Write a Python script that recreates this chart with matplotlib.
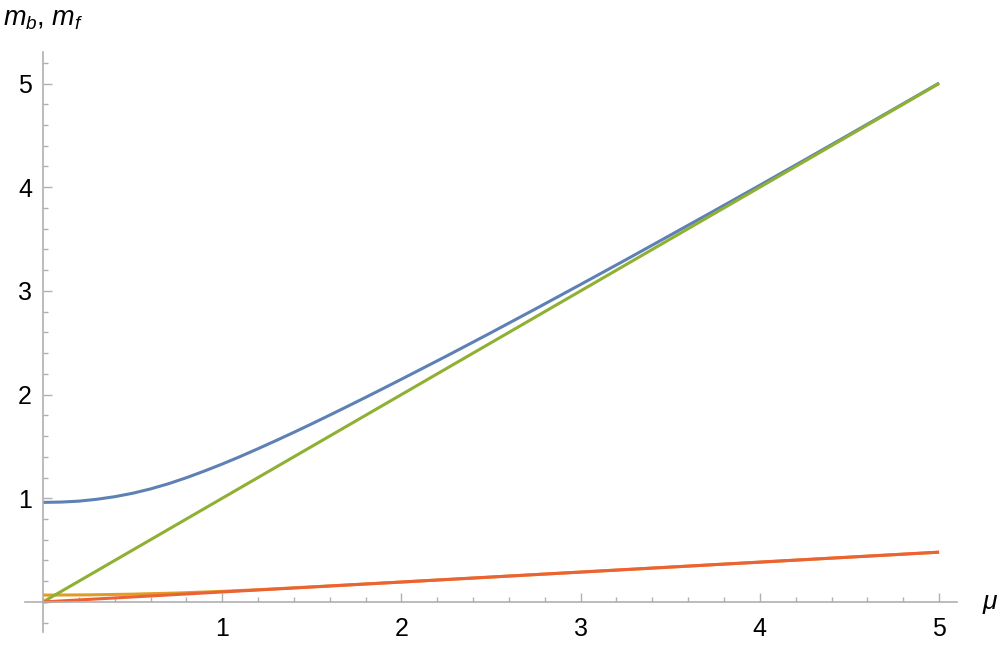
import matplotlib
matplotlib.use('Agg')
import matplotlib.pyplot as plt
from matplotlib.ticker import MultipleLocator, FixedLocator

plt.rcParams['font.family'] = ['Liberation Sans', 'DejaVu Sans']
plt.rcParams['mathtext.fontset'] = 'custom'
plt.rcParams['mathtext.it'] = 'Liberation Sans:italic'
plt.rcParams['mathtext.rm'] = 'Liberation Sans'

# values
mu_b = [0.0, 0.1, 0.2, 0.3, 0.4, 0.5, 0.6, 0.7, 0.8, 0.9, 1.0, 1.1, 1.2, 1.3,
        1.4, 1.5, 1.6, 1.7, 1.8, 1.9, 2.0, 2.25, 2.5, 2.75, 3.0, 3.25, 3.5,
        3.75, 4.0, 4.25, 4.5, 4.75, 5.0]
m_b = [0.960, 0.963, 0.972, 0.990, 1.015, 1.048, 1.090, 1.140, 1.198, 1.262,
       1.330, 1.402, 1.478, 1.556, 1.636, 1.718, 1.802, 1.887, 1.973, 2.060,
       2.148, 2.370, 2.597, 2.828, 3.062, 3.298, 3.537, 3.777, 4.019, 4.263,
       4.509, 4.756, 5.004]

mu_o = [0.0, 0.25, 0.5, 0.75, 1.0, 1.25, 1.5, 2.0, 3.0, 4.0, 5.0]
m_o = [0.066, 0.068, 0.075, 0.086, 0.102, 0.122, 0.145, 0.192, 0.288, 0.384, 0.48]

mu_g = [0.0, 5.0]
m_g = [0.0, 5.0]

mu_r = [0.0, 5.0]
m_r = [0.0, 0.48]

W, H = 997, 647
fig = plt.figure(figsize=(W / 100, H / 100), dpi=100)

# axes box in pixels (left, top, right, bottom)
x0, x1 = 25.1, 957.0
y0, y1 = 52.4, 632.0
ax = fig.add_axes([x0 / W, 1 - y1 / H, (x1 - x0) / W, (y1 - y0) / H])
ax.set_xlim(-0.1, 5.1)
ax.set_ylim(-0.29, 5.3)

lw = 2.2
ax.plot(mu_b, m_b, color='#5E81B5', lw=lw, solid_capstyle='butt')
ax.plot(mu_o, m_o, color='#E19C24', lw=lw, solid_capstyle='butt')
ax.plot(mu_g, m_g, color='#8FB032', lw=lw, solid_capstyle='butt')
ax.plot(mu_r, m_r, color='#EB6235', lw=lw, solid_capstyle='butt')

gray = '#b0b0b0'
for s in ['top', 'right']:
    ax.spines[s].set_visible(False)
ax.spines['left'].set_position(('data', 0))
ax.spines['bottom'].set_position(('data', 0))
for s in ['left', 'bottom']:
    ax.spines[s].set_color(gray)
    ax.spines[s].set_linewidth(1.2)
ax.patch.set_visible(False)

ax.xaxis.set_major_locator(FixedLocator([1, 2, 3, 4, 5]))
ax.yaxis.set_major_locator(FixedLocator([1, 2, 3, 4, 5]))
ax.xaxis.set_minor_locator(MultipleLocator(0.2))
ax.yaxis.set_minor_locator(MultipleLocator(0.2))
ax.tick_params(which='both', direction='in', color=gray, width=1.0, labelsize=18)
ax.tick_params(which='major', length=6.5)
ax.tick_params(which='minor', length=3.6)
ax.tick_params(axis='x', pad=11)
ax.tick_params(axis='y', pad=8)

fig.text(3 / W, 1 - 25 / H, r'$m_b$, $m_f$', fontsize=19.5, ha='left', va='baseline')
fig.text(982 / W, 1 - 609 / H, r'$\mu$', fontsize=19, ha='left', va='baseline')

fig.savefig('out.png', dpi=100)
